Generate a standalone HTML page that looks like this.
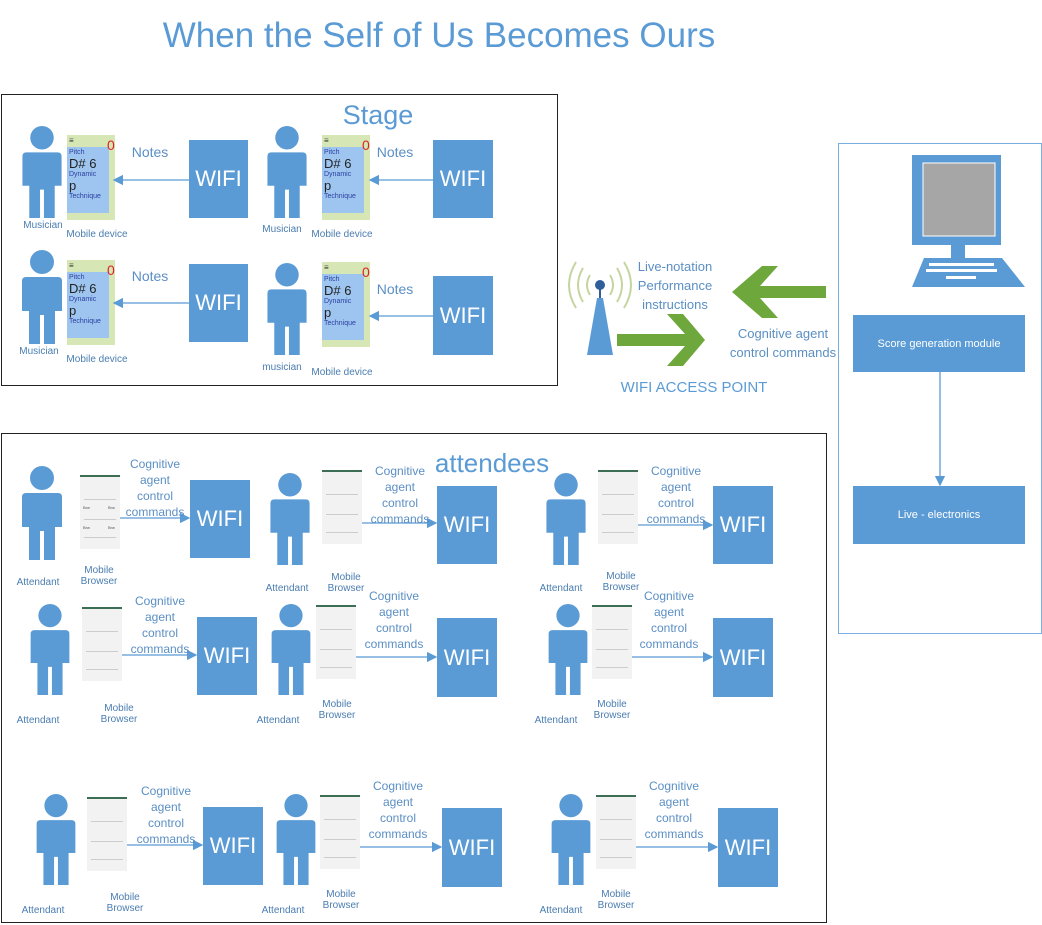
<!DOCTYPE html>
<html><head><meta charset="utf-8"><style>
body{margin:0;width:1042px;height:925px;background:#fff;position:relative;overflow:hidden;font-family:"Liberation Sans",sans-serif}
div,svg{position:absolute}
.t{color:#5b8fc4;white-space:nowrap;text-align:center;transform:translateX(-50%);line-height:1}
.lbl{font-size:10px;color:#4a7db0}
.wifi{background:#5b9bd5;color:#fff;font-size:22px;display:flex;align-items:center;justify-content:center}
.box{border:1px solid #222}
.cog{font-size:12px;line-height:16px;color:#5b8fc4}
.ph{width:58px}
.ph .g{position:absolute;left:0;top:0;width:48px;height:85px;background:#d6e7b5}
.ph .b{position:absolute;left:0;top:12px;width:38px;height:62px;background:#9ec5f0;color:#2a3fa0;font-size:7px;line-height:8px;padding:2px}
.ph .b span{font-size:13px;color:#222;line-height:13px}
.ph .z{position:absolute;left:40px;top:2px;color:#d22;font-size:14px}
.ph .m{position:absolute;left:2px;top:1px;font-size:8px;color:#333}
.br{width:40px;height:72px;background:#f2f2f2;border-top:2px solid #3c6e55}
.br i{position:absolute;left:4px;right:4px;height:1px;background:#ccc}
.br b{position:absolute;font-size:4px;font-weight:normal;color:#555}
</style></head><body>
<svg width="0" height="0"><defs>
<symbol id="p" viewBox="0 0 40 95"><circle cx="20" cy="13" r="12" fill="#5b9bd5"/><path d="M4 28 H36 Q40 28 40 32 V62 H33 V95 H22 V66 H18 V95 H7 V62 H0 V32 Q0 28 4 28Z" fill="#5b9bd5"/></symbol>
<marker id="a" markerWidth="8" markerHeight="8" refX="7" refY="4" orient="auto"><path d="M0 0 L8 4 L0 8Z" fill="#5b9bd5"/></marker>
</defs></svg>

<div class="t" style="left:439px;top:18px;font-size:35px;color:#5b9bd5">When the Self of Us Becomes Ours</div>

<!-- Stage -->
<div class="box" style="left:1px;top:94px;width:555px;height:290px"></div>
<div class="t" style="left:378px;top:102px;font-size:27px;color:#5b9bd5">Stage</div>

<svg style="left:22px;top:125px" width="40" height="93"><use href="#p"/></svg>
<svg style="left:267px;top:125px" width="40" height="93"><use href="#p"/></svg>
<svg style="left:22px;top:248px" width="40" height="97"><use href="#p"/></svg>
<svg style="left:267px;top:262px" width="40" height="93"><use href="#p"/></svg>

<div class="ph" style="left:67px;top:135px"><div class="g"></div><div class="b">Pitch<br><span>D# 6</span><br>Dynamic<br><span>p</span><br>Technique</div><div class="m">≡</div><div class="z">0</div></div>
<div class="ph" style="left:322px;top:135px"><div class="g"></div><div class="b">Pitch<br><span>D# 6</span><br>Dynamic<br><span>p</span><br>Technique</div><div class="m">≡</div><div class="z">0</div></div>
<div class="ph" style="left:67px;top:260px"><div class="g"></div><div class="b">Pitch<br><span>D# 6</span><br>Dynamic<br><span>p</span><br>Technique</div><div class="m">≡</div><div class="z">0</div></div>
<div class="ph" style="left:322px;top:262px"><div class="g"></div><div class="b">Pitch<br><span>D# 6</span><br>Dynamic<br><span>p</span><br>Technique</div><div class="m">≡</div><div class="z">0</div></div>

<div class="t lbl" style="left:43px;top:221px">Musician</div>
<div class="t lbl" style="left:97px;top:230px">Mobile device</div>
<div class="t lbl" style="left:282px;top:225px">Musician</div>
<div class="t lbl" style="left:342px;top:230px">Mobile device</div>
<div class="t lbl" style="left:39px;top:347px">Musician</div>
<div class="t lbl" style="left:97px;top:355px">Mobile device</div>
<div class="t lbl" style="left:282px;top:363px">musician</div>
<div class="t lbl" style="left:342px;top:368px">Mobile device</div>

<div class="t" style="left:150px;top:145px;font-size:14px">Notes</div>
<div class="t" style="left:395px;top:145px;font-size:14px">Notes</div>
<div class="t" style="left:150px;top:269px;font-size:14px">Notes</div>
<div class="t" style="left:395px;top:282px;font-size:14px">Notes</div>

<div class="wifi" style="left:189px;top:140px;width:59px;height:78px">WIFI</div>
<div class="wifi" style="left:433px;top:140px;width:60px;height:78px">WIFI</div>
<div class="wifi" style="left:189px;top:264px;width:59px;height:78px">WIFI</div>
<div class="wifi" style="left:433px;top:276px;width:60px;height:79px">WIFI</div>

<svg style="left:0;top:0" width="1042" height="925">
<g stroke="#5b9bd5" stroke-width="1.3" fill="none" marker-end="url(#a)">
<line x1="189" y1="180" x2="114" y2="180"/><line x1="433" y1="180" x2="370" y2="180"/>
<line x1="189" y1="303" x2="114" y2="303"/><line x1="433" y1="316" x2="370" y2="316"/>
<line x1="940" y1="372" x2="940" y2="485"/>
<line x1="120" y1="518" x2="189" y2="518"/><line x1="362" y1="523" x2="436" y2="523"/><line x1="637" y1="525" x2="712" y2="525"/>
<line x1="121" y1="655" x2="196" y2="655"/><line x1="355" y1="657" x2="436" y2="657"/><line x1="631" y1="657" x2="712" y2="657"/>
<line x1="126" y1="845" x2="202" y2="845"/><line x1="359" y1="847" x2="441" y2="847"/><line x1="635" y1="847" x2="717" y2="847"/>
</g>
<!-- antenna -->
<g fill="none" stroke="#c5d5a0" stroke-width="2">
<path d="M590 275 Q584 285 590 295"/><path d="M583 268 Q573 285 583 302"/><path d="M576 262 Q562 285 576 308"/>
<path d="M610 275 Q616 285 610 295"/><path d="M617 268 Q627 285 617 302"/><path d="M624 262 Q638 285 624 308"/>
</g>
<line x1="600" y1="288" x2="600" y2="300" stroke="#2e5f9a" stroke-width="2"/>
<circle cx="600" cy="285" r="5" fill="#2e5f9a"/>
<path d="M597 298 H603 L613 355 H587Z" fill="#5b9bd5"/>
<!-- green arrows -->
<path d="M826 286 V298 H760 L778 318 L762 318 L732 292 L762 266 L778 266 L760 286Z" fill="#6ea83d"/>
<path d="M617 334 V346 H685 L667 366 L683 366 L705 340 L683 314 L667 314 L685 334Z" fill="#6ea83d"/>
<!-- computer -->
<rect x="912" y="155" width="89" height="90" fill="#5b9bd5"/>
<rect x="923" y="163" width="72" height="73" fill="#a6a6a6" stroke="#fff" stroke-width="1"/>
<rect x="951" y="245" width="14" height="13" fill="#5b9bd5"/>
<path d="M924 258 H1002 L1025 287 H912Z" fill="#5b9bd5"/>
<g fill="#fff"><rect x="929" y="263" width="65" height="3"/><rect x="926" y="269" width="71" height="3"/><rect x="946" y="276" width="30" height="3"/></g>
</svg>

<div class="t" style="left:675px;top:257px;font-size:13px;line-height:19px">Live-notation<br>Performance<br>instructions</div>
<div class="t" style="left:783px;top:324px;font-size:13px;line-height:19px">Cognitive agent<br>control commands</div>
<div class="t" style="left:694px;top:380px;font-size:15px;color:#5b9bd5">WIFI ACCESS POINT</div>

<div style="left:838px;top:143px;width:202px;height:489px;border:1px solid #7aaee0"></div>
<div class="wifi" style="left:853px;top:315px;width:172px;height:57px;font-size:11px">Score generation module</div>
<div class="wifi" style="left:853px;top:486px;width:172px;height:58px;font-size:11px">Live - electronics</div>

<!-- attendees -->
<div class="box" style="left:1px;top:433px;width:824px;height:488px"></div>
<div class="t" style="left:492px;top:450px;font-size:26px;color:#5b9bd5">attendees</div>

<svg style="left:22px;top:465px" width="40" height="95"><use href="#p"/></svg>
<svg style="left:270px;top:472px" width="40" height="93"><use href="#p"/></svg>
<svg style="left:546px;top:472px" width="40" height="93"><use href="#p"/></svg>
<svg style="left:30px;top:603px" width="40" height="92"><use href="#p"/></svg>
<svg style="left:271px;top:603px" width="40" height="92"><use href="#p"/></svg>
<svg style="left:548px;top:603px" width="40" height="92"><use href="#p"/></svg>
<svg style="left:36px;top:793px" width="40" height="92"><use href="#p"/></svg>
<svg style="left:276px;top:793px" width="40" height="92"><use href="#p"/></svg>
<svg style="left:551px;top:793px" width="40" height="92"><use href="#p"/></svg>

<div class="br" style="left:80px;top:475px"><i style="top:22px"></i><i style="top:42px"></i><i style="top:60px"></i><b style="left:3px;top:28px">Brw</b><b style="left:28px;top:28px">Brw</b><b style="left:3px;top:48px">Brw</b><b style="left:28px;top:48px">Brw</b></div>
<div class="br" style="left:322px;top:470px"><i style="top:22px"></i><i style="top:42px"></i><i style="top:60px"></i></div>
<div class="br" style="left:598px;top:470px"><i style="top:22px"></i><i style="top:42px"></i><i style="top:60px"></i></div>
<div class="br" style="left:82px;top:607px"><i style="top:22px"></i><i style="top:42px"></i><i style="top:60px"></i></div>
<div class="br" style="left:316px;top:605px"><i style="top:22px"></i><i style="top:42px"></i><i style="top:60px"></i></div>
<div class="br" style="left:592px;top:605px"><i style="top:22px"></i><i style="top:42px"></i><i style="top:60px"></i></div>
<div class="br" style="left:87px;top:797px"><i style="top:22px"></i><i style="top:42px"></i><i style="top:60px"></i></div>
<div class="br" style="left:320px;top:795px"><i style="top:22px"></i><i style="top:42px"></i><i style="top:60px"></i></div>
<div class="br" style="left:596px;top:795px"><i style="top:22px"></i><i style="top:42px"></i><i style="top:60px"></i></div>

<div class="t lbl" style="left:38px;top:578px">Attendant</div>
<div class="t lbl" style="left:99px;top:565px;line-height:11px">Mobile<br>Browser</div>
<div class="t lbl" style="left:287px;top:584px">Attendant</div>
<div class="t lbl" style="left:346px;top:572px;line-height:11px">Mobile<br>Browser</div>
<div class="t lbl" style="left:561px;top:584px">Attendant</div>
<div class="t lbl" style="left:621px;top:571px;line-height:11px">Mobile<br>Browser</div>
<div class="t lbl" style="left:38px;top:716px">Attendant</div>
<div class="t lbl" style="left:119px;top:703px;line-height:11px">Mobile<br>Browser</div>
<div class="t lbl" style="left:278px;top:716px">Attendant</div>
<div class="t lbl" style="left:337px;top:699px;line-height:11px">Mobile<br>Browser</div>
<div class="t lbl" style="left:556px;top:716px">Attendant</div>
<div class="t lbl" style="left:612px;top:699px;line-height:11px">Mobile<br>Browser</div>
<div class="t lbl" style="left:43px;top:906px">Attendant</div>
<div class="t lbl" style="left:125px;top:892px;line-height:11px">Mobile<br>Browser</div>
<div class="t lbl" style="left:283px;top:906px">Attendant</div>
<div class="t lbl" style="left:341px;top:889px;line-height:11px">Mobile<br>Browser</div>
<div class="t lbl" style="left:561px;top:906px">Attendant</div>
<div class="t lbl" style="left:616px;top:889px;line-height:11px">Mobile<br>Browser</div>

<div class="t cog" style="left:155px;top:456px">Cognitive<br>agent<br>control<br>commands</div>
<div class="t cog" style="left:400px;top:463px">Cognitive<br>agent<br>control<br>commands</div>
<div class="t cog" style="left:676px;top:463px">Cognitive<br>agent<br>control<br>commands</div>
<div class="t cog" style="left:160px;top:593px">Cognitive<br>agent<br>control<br>commands</div>
<div class="t cog" style="left:394px;top:588px">Cognitive<br>agent<br>control<br>commands</div>
<div class="t cog" style="left:669px;top:588px">Cognitive<br>agent<br>control<br>commands</div>
<div class="t cog" style="left:166px;top:783px">Cognitive<br>agent<br>control<br>commands</div>
<div class="t cog" style="left:398px;top:778px">Cognitive<br>agent<br>control<br>commands</div>
<div class="t cog" style="left:674px;top:778px">Cognitive<br>agent<br>control<br>commands</div>

<div class="wifi" style="left:190px;top:480px;width:60px;height:78px">WIFI</div>
<div class="wifi" style="left:437px;top:486px;width:60px;height:78px">WIFI</div>
<div class="wifi" style="left:713px;top:486px;width:60px;height:78px">WIFI</div>
<div class="wifi" style="left:197px;top:617px;width:60px;height:78px">WIFI</div>
<div class="wifi" style="left:437px;top:618px;width:60px;height:79px">WIFI</div>
<div class="wifi" style="left:713px;top:618px;width:60px;height:79px">WIFI</div>
<div class="wifi" style="left:203px;top:807px;width:60px;height:78px">WIFI</div>
<div class="wifi" style="left:442px;top:808px;width:60px;height:79px">WIFI</div>
<div class="wifi" style="left:718px;top:808px;width:60px;height:79px">WIFI</div>
</body></html>
